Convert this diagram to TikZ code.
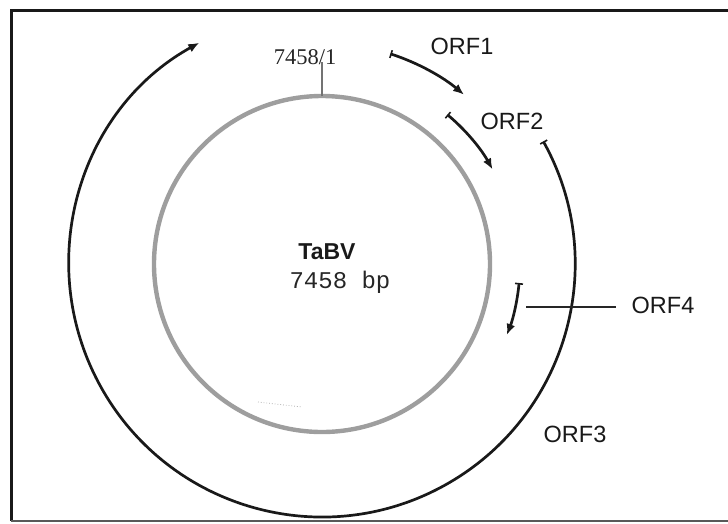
\documentclass[tikz,border=0pt]{standalone}
\usepackage{fontspec}
\setmainfont{Liberation Serif}
\setsansfont{Liberation Sans}
\setmonofont{Liberation Mono}
\usetikzlibrary{arrows.meta,calc}

\tikzset{
  orf/.style={line width=2.7pt, black!90},
  orfarrow/.style={orf, {Bar[width=8pt,line width=1.6pt]}-{Latex[length=11pt,width=9pt]}},
  orflabel/.style={font=\sffamily\fontsize{23.5}{23.5}\selectfont, text=black!90, inner sep=0pt},
  genome/.style={line width=4.4pt, black!38},
  frameline/.style={line width=3pt, black!90},
}

\begin{document}
\begin{tikzpicture}[x=1pt,y=1pt]
  \useasboundingbox (0,0) rectangle (728,-523);

  % outer frame (right side runs off the page)
  \draw[frameline] (11,-521) -- (11,-10) -- (740,-10);
  \draw[line width=2pt, black!65] (11,-521) -- (740,-521);

  % circular genome
  \coordinate (c) at (322,-264);
  \draw[genome] (c) circle[radius=168];
  \draw[line width=0.8pt, black!30, dotted] (258,-402) -- (302,-407);

  % position marker at the origin of the map
  \coordinate (origin) at ($(c)+(90:168)$);
  \node[font=\fontsize{22.5}{22.5}\selectfont, text=black!85, inner sep=0pt] (pos) at (305,-57) {7458/1};
  \draw[line width=1.6pt, black!55] (origin) -- (322,-62);

  % genome name and size
  \node[font=\sffamily\bfseries\fontsize{23}{23}\selectfont, text=black!90, inner sep=0pt] (name) at (327,-252) {TaBV};
  \node[font=\ttfamily\fontsize{24}{24}\selectfont, text=black!85, inner sep=0pt] (size) at (340,-282) {7458 bp};

  % open reading frames
  \draw[orfarrow, shift={(c)}] (72:221) arc[start angle=72, end angle=50, radius=221];
  \draw[orfarrow, shift={(c)}] (50:195) arc[start angle=50, end angle=29, radius=195];
  \draw[orfarrow, shift={(c)}] (-5.5:198) arc[start angle=-5.5, end angle=-21, radius=198];
  \draw[orfarrow, shift={(c)}] (29:253) arc[start angle=29, end angle=-241, radius=253];

  % labels
  \node[orflabel] (orf1) at (462,-46) {ORF1};
  \node[orflabel] (orf2) at (512,-121) {ORF2};
  \node[orflabel] (orf3) at (575,-434) {ORF3};
  \node[orflabel] (orf4) at (663,-305) {ORF4};
  \coordinate (orf4lead) at (526,-307);
  \draw[line width=1.6pt, black!85] (orf4lead) -- ([xshift=-15pt]orf4.west |- orf4lead);
\end{tikzpicture}
\end{document}
